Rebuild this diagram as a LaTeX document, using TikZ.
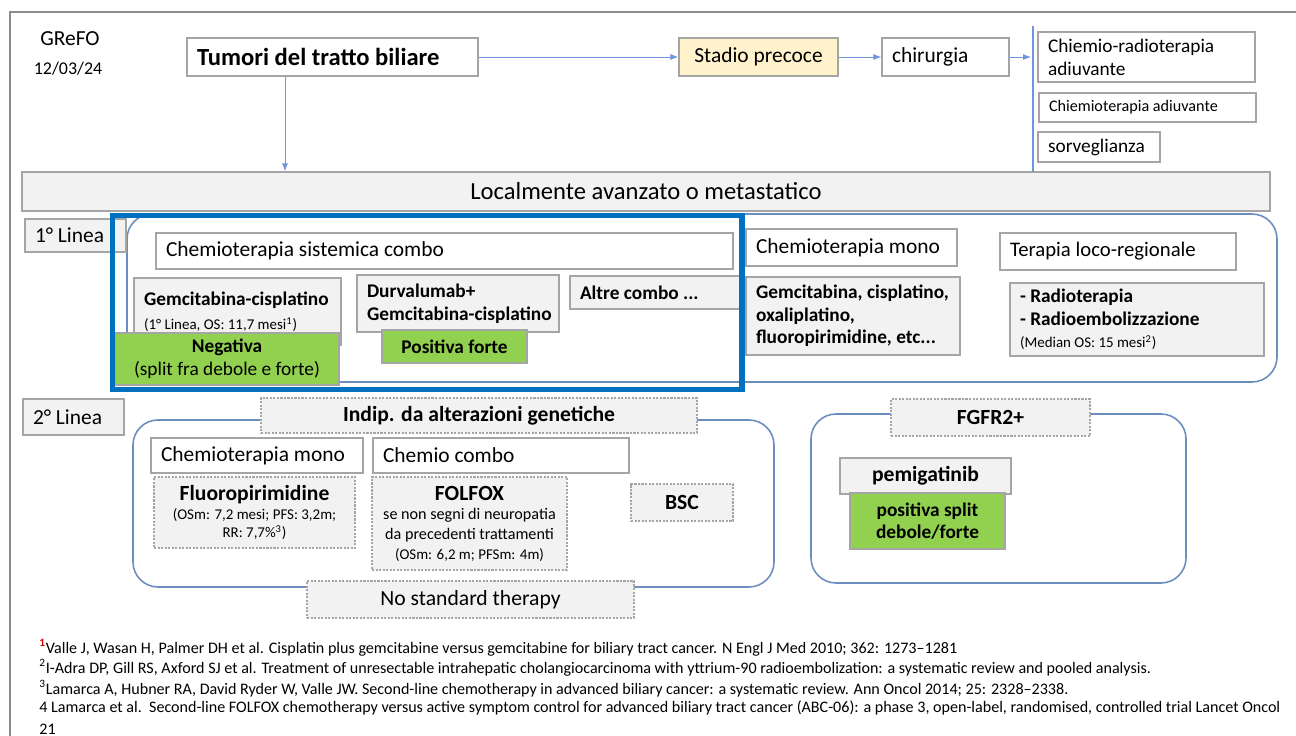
\documentclass[tikz,border=0pt]{standalone}
\usepackage{fontspec}
\setmainfont{Carlito}
\usepackage{tikz}
\usepackage{xcolor}
\usetikzlibrary{arrows.meta}

\definecolor{boxgray}{HTML}{A5A5A5}
\definecolor{fillgray}{HTML}{F2F2F2}
\definecolor{stageyel}{HTML}{FFF2CC}
\definecolor{evgreen}{HTML}{92D050}
\definecolor{contblue}{HTML}{6C8EBF}
\definecolor{hlblue}{HTML}{0070C0}
\definecolor{arrblue}{HTML}{6F96D8}
\definecolor{framegray}{HTML}{8C8C8C}

\newcommand{\txbig}{\fontsize{14}{16.8}\selectfont}
\newcommand{\txnorm}{\fontsize{12.2}{14.2}\selectfont}
\newcommand{\txmid}{\fontsize{11}{13}\selectfont}
\newcommand{\txbold}{\fontsize{11}{12.8}\selectfont\bfseries}
\newcommand{\txsmall}{\fontsize{8.5}{10.6}\selectfont}
\newcommand{\txnote}{\fontsize{9.15}{10.4}\selectfont}

\begin{document}
\begin{tikzpicture}[
          x=0.02cm, y=-0.02cm,
          sz/.style 2 args={minimum width=#1*0.02cm, minimum height=#2*0.02cm},
          wbox/.style={draw=boxgray, line width=0.7pt, fill=white, inner sep=0pt, font=\txnorm},
          gbox/.style={draw=boxgray, line width=0.7pt, fill=fillgray, inner sep=0pt, font=\txbold},
          dbox/.style={gbox, dash pattern=on 1.2pt off 0.8pt},
          ybox/.style={wbox, fill=stageyel},
          grn/.style={draw=boxgray, line width=0.7pt, fill=evgreen, inner sep=0pt, font=\txbold, align=center},
          lft/.style={inner xsep=0.2cm, align=flush left, text width=#1},
          cont/.style={draw=contblue, line width=0.9pt, rounded corners=0.5cm},
          arr/.style={-{Latex[length=1.6mm,width=1.2mm]}, draw=arrblue, line width=0.5pt}
      ]
        \useasboundingbox (0,0) rectangle (1296,736);
        \draw[framegray, line width=0.8pt] (10,736) -- (10,12) -- (1296,12);

        % header
        \node[font=\txnorm] (grefo) at (70,39) {GReFO};
        \node[font=\fontsize{10.2}{12}\selectfont] (data) at (68,69) {12/03/24};
        \node[wbox, lft=5.42cm, sz={291}{38}, font=\txbig\bfseries] (tumori) at (332.5,57) {Tumori del tratto biliare};
        \node[ybox, sz={159}{38}] (stadio) at (758.5,57) {Stadio precoce};
        \node[wbox, lft=2.14cm, sz={127}{38}] (chir) at (945.5,57) {chirurgia};
        \coordinate (vtop) at (1033,26);
        \coordinate (vbot) at (1033,172);
        \coordinate (varr) at (1031,57);
        \node[wbox, lft=3.94cm, sz={217}{50}, font=\txmid] (crt) at (1146.5,57) {Chiemio-radioterapia\\adiuvante};
        \node[wbox, lft=3.94cm, sz={217}{29}, font=\fontsize{9.2}{11}\selectfont] (cad) at (1147.5,107.5) {Chiemioterapia adiuvante};
        \node[wbox, lft=2.04cm, sz={122}{30}, font=\txmid] (sorv) at (1099,147) {sorveglianza};
        \node[gbox, sz={1248}{39}, font=\txbig] (loc) at (646,191.5) {Localmente avanzato o metastatico};
        \coordinate (ax) at (285,0);
        \draw[arr] (tumori) -- (stadio);
        \draw[arr] (stadio) -- (chir);
        \draw[arr] (chir.east) -- (varr);
        \draw[arrblue, line width=0.6pt] (vtop) -- (vbot);
        \draw[arr] (tumori.south -| ax) -- (loc.north -| ax);

        % prima linea
        \draw[cont] (127,214) rectangle (1277,382);
        \node[gbox, lft=1.62cm, sz={101}{33}, font=\txnorm] (linea1) at (75.5,235.5) {1° Linea};
        \node[wbox, lft=11.14cm, sz={577}{36}] (combo) at (444.5,251) {Chemioterapia sistemica combo};
        \node[gbox, lft=3.74cm, sz={207}{67}] (gemcis) at (237.5,311.5) {Gemcitabina-cisplatino\\[1pt]{\txsmall\mdseries (1° Linea, OS: 11,7 mesi\textsuperscript{1})}};
        \node[grn, sz={224}{52}] (neg) at (227,359) {Negativa\\{\mdseries (split fra debole e forte)}};
        \node[gbox, lft=3.64cm, sz={202}{57}] (durv) at (458,303.5) {Durvalumab+\\\mbox{Gemcitabina-cisplatino}};
        \node[grn, sz={145}{33}] (posf) at (454.5,346.5) {Positiva forte};
        \node[gbox, lft=3.0cm, sz={170}{33}] (altre) at (655,292.5) {Altre combo ...};
        \node[wbox, lft=3.82cm, sz={211}{37}] (mono1) at (851.5,247.5) {Chemioterapia mono};
        \node[gbox, lft=3.88cm, sz={214}{78}] (monolist) at (853,316) {Gemcitabina, cisplatino,\\oxaliplatino,\\fluoropirimidine, etc...};
        \node[wbox, lft=4.32cm, sz={236}{37}, font=\fontsize{11.8}{14}\selectfont] (loco) at (1118,251.5) {Terapia loco-regionale};
        \node[gbox, lft=4.68cm, sz={254}{73}] (radio) at (1137,319.5) {- Radioterapia\\- Radioembolizzazione\\{\txsmall\mdseries (Median OS: 15 mesi\textsuperscript{2})}};
        \draw[hlblue, line width=3.1pt] (112.5,215.5) rectangle (742,389.5);

        % seconda linea
        \draw[cont] (133,420) rectangle (774,587);
        \draw[cont] (811,414) rectangle (1186,583);
        \node[gbox, lft=1.62cm, sz={101}{36}, font=\txnorm] (linea2) at (73.5,417) {2° Linea};
        \node[dbox, sz={436}{35}, font=\fontsize{12.3}{14}\selectfont\bfseries] (indip) at (479,415.5) {Indip. da alterazioni genetiche};
        \node[wbox, lft=3.84cm, sz={212}{35}] (mono2) at (257,455.5) {Chemioterapia mono};
        \node[wbox, lft=4.72cm, sz={256}{35}] (ccombo) at (501,455.5) {Chemio combo};
        \node[dbox, sz={201}{71}, align=center, font=\txsmall] (fluoro) at (254.5,512.5) {{\fontsize{12.3}{14}\selectfont\bfseries Fluoropirimidine}\\(OSm: 7,2 mesi; PFS: 3,2m;\\RR: 7,7\%\textsuperscript{3})};
        \node[dbox, sz={195}{93}, align=center, font=\fontsize{9.2}{11.2}\selectfont] (folfox) at (469.5,523.5) {{\fontsize{12.3}{14}\selectfont\bfseries FOLFOX}\\se non segni di neuropatia\\da precedenti trattamenti\\{\txsmall (OSm: 6,2 m; PFSm: 4m)}};
        \node[dbox, sz={102}{37}, font=\fontsize{12.3}{14}\selectfont\bfseries] (bsc) at (682,502.5) {BSC};
        \node[dbox, sz={327}{37}, font=\fontsize{12.3}{14}\selectfont] (nst) at (470.5,599.5) {No standard therapy};
        \node[dbox, sz={199}{37}, font=\fontsize{12.3}{14}\selectfont\bfseries] (fgfr) at (990.5,417.5) {FGFR2+};
        \node[gbox, sz={171}{36}, font=\fontsize{12.3}{14}\selectfont\bfseries] (pemi) at (925.5,476) {pemigatinib};
        \node[grn, sz={155}{56}] (posspl) at (927.5,521) {positiva split\\debole/forte};

        % note
        \node[anchor=west, inner sep=0pt, font=\txnote] (fn1) at (39,648) {\textsuperscript{\textcolor{red!85!black}{\textbf{1}}}Valle J, Wasan H, Palmer DH et al. Cisplatin plus gemcitabine versus gemcitabine for biliary tract cancer. N Engl J Med 2010; 362: 1273--1281};
        \node[anchor=west, inner sep=0pt, font=\txnote] (fn2) at (39,668) {\textsuperscript{2}I-Adra DP, Gill RS, Axford SJ et al. Treatment of unresectable intrahepatic cholangiocarcinoma with yttrium-90 radioembolization: a systematic review and pooled analysis.};
        \node[anchor=west, inner sep=0pt, font=\txnote] (fn3) at (39,689) {\textsuperscript{3}Lamarca A, Hubner RA, David Ryder W, Valle JW. Second-line chemotherapy in advanced biliary cancer: a systematic review. Ann Oncol 2014; 25: 2328--2338.};
        \node[anchor=west, inner sep=0pt, font=\txnote] (fn4) at (39,708) {4 Lamarca et al.\ \ Second-line FOLFOX chemotherapy versus active symptom control for advanced biliary tract cancer (ABC-06): a phase 3, open-label, randomised, controlled trial Lancet Oncol};
        \node[anchor=west, inner sep=0pt, font=\txnote] (fn5) at (39,729) {21};
      \end{tikzpicture}
\end{document}
